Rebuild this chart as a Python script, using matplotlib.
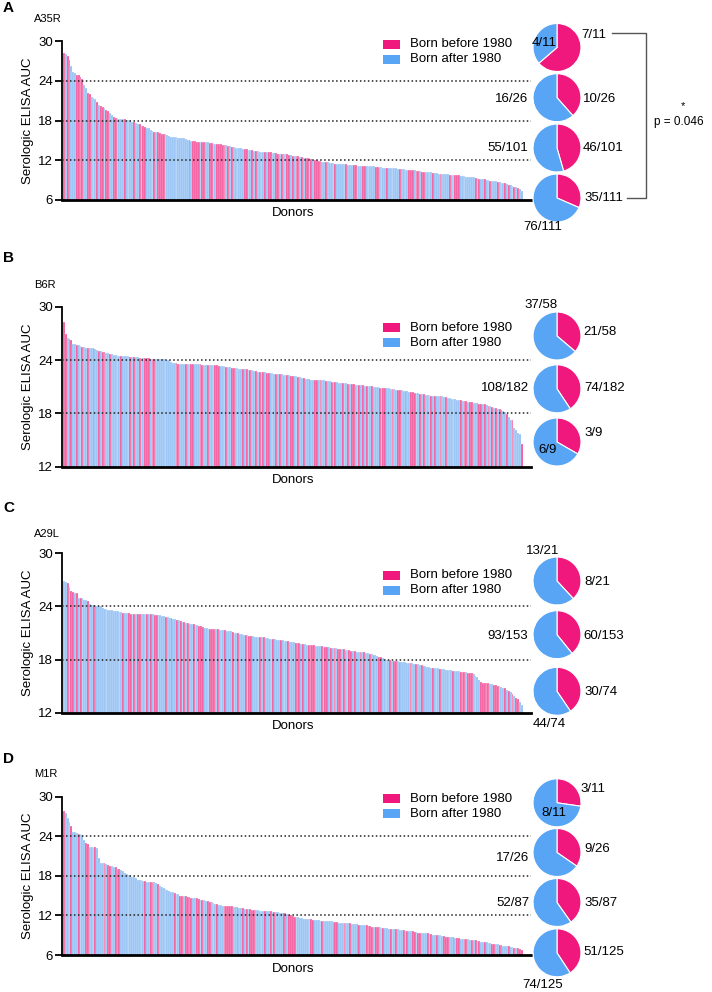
import numpy as np
import matplotlib.pyplot as plt
from matplotlib.patches import Rectangle
from matplotlib.lines import Line2D

plt.rcParams['font.family'] = ['Liberation Sans', 'DejaVu Sans']

W, H = 712, 992

# ---------------- data ----------------
# sorted serologic ELISA AUC per donor; p = born before 1980, b = born after 1980
a35r_auc = [
    28.2, 28.0, 27.7, 27.2, 26.2, 25.3, 25.2, 24.9, 24.8, 24.6, 24.2,
    23.3, 22.9, 22.2, 22.0, 21.6, 21.4, 21.2, 20.8, 20.4, 20.2, 20.0, 19.9, 19.6, 19.4, 19.2, 18.8,
    18.6, 18.4, 18.4, 18.3, 18.3, 18.2, 18.2, 18.1, 18.1, 18.1,
    17.8, 17.7, 17.6, 17.5, 17.4, 17.2, 17.1, 17.0, 16.9, 16.8, 16.6, 16.4, 16.3,
    16.2, 16.2, 16.1, 16.0, 15.9, 15.9, 15.8, 15.6, 15.5, 15.5,
    15.5, 15.5, 15.4, 15.4, 15.4, 15.3, 15.2, 15.1, 15.0, 14.9,
    14.9, 14.9, 14.8, 14.8, 14.8, 14.7, 14.7, 14.7, 14.7, 14.6, 14.6, 14.5, 14.5,
    14.4, 14.4, 14.4, 14.3, 14.3, 14.3, 14.2, 14.1, 14.0, 14.0,
    13.9, 13.9, 13.8, 13.8, 13.7, 13.7, 13.7, 13.6, 13.6, 13.5,
    13.4, 13.4, 13.4, 13.3, 13.3, 13.3, 13.3, 13.2, 13.2, 13.2, 13.1, 13.1, 13.1, 13.0, 13.0, 13.0, 12.9, 12.9,
    12.9, 12.8, 12.8, 12.7, 12.7, 12.6, 12.6, 12.5, 12.5, 12.4, 12.4, 12.3, 12.3, 12.2, 12.1, 12.1, 12.0,
    11.9, 11.9, 11.8, 11.8, 11.7, 11.7, 11.6, 11.6, 11.6, 11.5, 11.5, 11.5, 11.4,
    11.4, 11.4, 11.4, 11.3, 11.3, 11.3, 11.3, 11.3, 11.2, 11.2, 11.2, 11.2, 11.2, 11.2, 11.1,
    11.1, 11.1, 11.1, 11.0, 11.0, 11.0, 11.0, 10.9, 10.9, 10.9, 10.9, 10.8, 10.8, 10.8, 10.8, 10.7, 10.7, 10.7,
    10.7, 10.6, 10.6, 10.6, 10.5, 10.5, 10.5, 10.4, 10.4, 10.4, 10.3, 10.3, 10.3, 10.2, 10.2, 10.2, 10.1, 10.1,
    10.1, 10.0, 10.0, 10.0, 9.9, 9.9, 9.9, 9.8, 9.8, 9.8, 9.7, 9.7, 9.7, 9.6, 9.6, 9.6, 9.5, 9.5,
    9.5, 9.4, 9.4, 9.3, 9.3, 9.2, 9.2, 9.1, 9.1, 9.0, 9.0, 8.9, 8.9, 8.8, 8.8, 8.7, 8.7, 8.6,
    8.6, 8.5, 8.4, 8.3, 8.2, 8.1, 8.0, 7.9, 7.8, 7.6, 7.4,
]
a35r_born = ("pbppbbbpppp"
             "bbppbbbpbppbppbbppbbbbpbbb"
             "bpbbpbppbbbbp" "bppppbbbbb" "bbbbbbbbpb" "ppppbppbbppbb" "pppppbpbpb"
             "bbbbbppbbp" "bpbbbbpbppbbppbpbb" "ppbpbppbpbppbpbpp"
             "ppbbpbbbbpbbb" "bbpbbbppbbbppbb" "bbbppbbbbpbbbbbbpb" "bbbpppbppbppbbbbpb"
             "bbpbbbbpbbpppbbbbb" "bbbpbpbbpbbpbbbpbb" "bpbpbbpbpbb")
a35r_pie_before = [7, 10, 46, 35]
a35r_pie_after = [4, 16, 55, 76]

b6r_auc = [
    28.3, 26.9, 26.5, 26.4, 26.2, 25.8, 25.8, 25.7, 25.7, 25.6,
    25.5, 25.5, 25.4, 25.4, 25.4, 25.3, 25.3, 25.2, 25.1, 25.0,
    25.0, 24.9, 24.9, 24.8, 24.8, 24.7, 24.7, 24.6, 24.6, 24.5,
    24.5, 24.5, 24.4, 24.4, 24.4, 24.4, 24.3, 24.3, 24.3, 24.3,
    24.3, 24.2, 24.2, 24.2, 24.2, 24.2, 24.2, 24.1, 24.1, 24.1,
    24.1, 24.1, 24.1, 24.1, 24.1, 24.0, 24.0, 24.0,
    23.8, 23.7, 23.7, 23.7, 23.6, 23.6, 23.6, 23.6, 23.6, 23.5, 23.5, 23.5,
    23.5, 23.5, 23.5, 23.5, 23.5, 23.4, 23.4, 23.4, 23.4, 23.4, 23.4, 23.4, 23.4, 23.4, 23.3, 23.3, 23.3, 23.3, 23.2, 23.2,
    23.2, 23.1, 23.1, 23.1, 23.1, 23.0, 23.0, 23.0, 23.0, 23.0, 22.9, 22.9, 22.9, 22.8, 22.8, 22.7, 22.7, 22.6, 22.6, 22.6,
    22.5, 22.5, 22.5, 22.5, 22.4, 22.4, 22.4, 22.4, 22.4, 22.3, 22.3, 22.3, 22.3, 22.2, 22.2, 22.2, 22.2, 22.1, 22.1, 22.0,
    22.0, 21.9, 21.9, 21.9, 21.8, 21.8, 21.8, 21.8, 21.7, 21.7, 21.7, 21.7, 21.6, 21.6, 21.6, 21.5, 21.5, 21.5, 21.5, 21.4,
    21.4, 21.4, 21.4, 21.4, 21.3, 21.3, 21.3, 21.3, 21.2, 21.2, 21.2, 21.2, 21.2, 21.1, 21.1, 21.1, 21.1, 21.1, 21.0, 21.0,
    21.0, 20.9, 20.9, 20.9, 20.8, 20.8, 20.8, 20.7, 20.7, 20.7, 20.6, 20.6, 20.6, 20.6, 20.5, 20.5, 20.5, 20.4, 20.4, 20.4,
    20.3, 20.3, 20.3, 20.2, 20.2, 20.2, 20.1, 20.1, 20.1, 20.0, 20.0, 20.0, 19.9, 19.9, 19.9, 19.9, 19.8, 19.8, 19.7, 19.7,
    19.6, 19.6, 19.6, 19.5, 19.5, 19.5, 19.4, 19.4, 19.4, 19.3, 19.3, 19.3, 19.2, 19.2, 19.2, 19.1, 19.1, 19.0, 19.0, 18.9,
    18.8, 18.8, 18.7, 18.6, 18.6, 18.5, 18.5, 18.4, 18.3, 18.2,
    17.9, 17.6, 17.3, 17.2, 16.4, 16.1, 15.8, 15.7, 14.6,
]
b6r_born = ("ppbppbbpbb" "pbbpbbpbbp" "bppbbpbbbb" "bpbbbbpbpb" "bpbbpppbpp" "bbbbbbbb"
            "bbbppbbbpbbp" "pbbbppbbpbbbpppbbbpb" "bppbbbbpbpbpbbpbpbpb" "ppbbbpbpbbbpbppbbpbb"
            "pbbpbbppbpbbpbbpbpbb" "bpbbpbppbbpbpbpbbpbb" "bpbppbbbpbbppbbpbbpp" "pbbpbpbbbpbpbbpbbpbb"
            "bbbbbpbppbppbbpppbpb" "pbpbpbppbb"
            "pbbpbbbbp")
b6r_pie_before = [21, 74, 3]
b6r_pie_after = [37, 108, 6]

a29l_auc = [
    26.9, 26.8, 26.6, 26.2, 25.7, 25.6, 25.5, 25.5, 25.0, 24.9, 24.9, 24.7, 24.7, 24.6, 24.3, 24.2, 24.2, 24.1, 24.1, 24.0, 24.0,
    23.8, 23.7, 23.7, 23.6, 23.6, 23.6, 23.5, 23.5, 23.5, 23.4, 23.4,
    23.3, 23.3, 23.3, 23.3, 23.2, 23.2, 23.2, 23.2, 23.2, 23.2, 23.1, 23.1, 23.1, 23.1, 23.1, 23.1, 23.1, 23.0, 23.0, 23.0, 23.0,
    22.9, 22.9, 22.8, 22.8, 22.7, 22.7, 22.6, 22.6, 22.5, 22.5, 22.4,
    22.2, 22.2, 22.1, 22.1, 22.0, 22.0, 22.0, 21.9, 21.9, 21.8, 21.8,
    21.7, 21.6, 21.6, 21.5, 21.5, 21.5, 21.4, 21.4, 21.4, 21.3, 21.3, 21.3, 21.3, 21.2, 21.2, 21.2, 21.1,
    21.0, 21.0, 21.0, 20.9, 20.9, 20.8, 20.8, 20.8, 20.7, 20.7, 20.7, 20.6, 20.6, 20.6, 20.5, 20.5, 20.5, 20.4,
    20.4, 20.3, 20.3, 20.3, 20.3, 20.2, 20.2, 20.2, 20.2, 20.1, 20.1, 20.1, 20.0, 20.0, 20.0, 19.9, 19.9, 19.9, 19.8, 19.8, 19.8, 19.7,
    19.7, 19.6, 19.6, 19.6, 19.5, 19.5, 19.5, 19.5, 19.4, 19.4, 19.4, 19.4, 19.3, 19.3, 19.3, 19.3, 19.2, 19.2,
    19.2, 19.2, 19.1, 19.1, 19.1, 19.0, 19.0, 19.0, 18.9, 18.9, 18.9, 18.8, 18.8, 18.7, 18.7, 18.6, 18.6, 18.5, 18.5, 18.4, 18.3, 18.3, 18.2, 18.1,
    17.9, 17.9, 17.9, 17.8, 17.8, 17.8, 17.8, 17.7, 17.7, 17.7, 17.7, 17.6,
    17.6, 17.6, 17.6, 17.5, 17.5, 17.5, 17.4, 17.4, 17.3, 17.3, 17.2, 17.2, 17.1, 17.1, 17.0,
    17.0, 17.0, 16.9, 16.9, 16.9, 16.8, 16.8, 16.8, 16.8, 16.7, 16.7, 16.7, 16.7, 16.6, 16.6, 16.6, 16.6, 16.5, 16.5, 16.5, 16.4,
    16.2, 16.0, 15.7, 15.5, 15.4, 15.4, 15.3, 15.3, 15.2, 15.2, 15.1, 15.1, 15.0, 15.0,
    14.9, 14.8, 14.8, 14.6, 14.5, 14.3, 14.1, 13.9, 13.7, 13.5, 13.2, 12.9,
]
a29l_born = ("bbpbppbpbpbbbpbbppbbb"
             "bbbbbbbbbbb" "pbbppbpbppbbbpbpbppbb" "bbpbbpbbpbp" "bpbpbbpbbpp" "pbbbpppbpbbbpbbbp"
             "bbpbbbpbppbbbbpbpb" "bbbpbbbpbbbpbbbpppbpbb" "ppppbbbpbppbpbpbpp" "bpbbppbpbbpbpbbpbpbbppbb"
             "bbpbppbpbbbb" "bpbbpbbppbbbbpb" "bbpbbbbbbpbbbpppbpppb" "bbbpppppbbpppb" "bbpbpbpbppbb")
a29l_pie_before = [8, 60, 30]
a29l_pie_after = [13, 93, 44]

m1r_auc = [
    27.9, 27.5, 26.8, 26.1, 25.6, 24.6, 24.6, 24.5, 24.4, 24.3, 24.2,
    23.4, 23.0, 22.8, 22.4, 22.3, 22.3, 22.3, 22.2, 20.7, 20.0, 19.9, 19.9, 19.8, 19.6, 19.5, 19.5,
    19.4, 19.3, 19.0, 19.0, 18.9, 18.7, 18.4, 18.3, 18.2, 18.1,
    17.9, 17.8, 17.6, 17.4, 17.4, 17.3, 17.2, 17.2, 17.1, 17.0, 17.0, 17.0, 17.0, 16.9,
    16.7, 16.5, 16.3, 16.2, 16.0, 15.8, 15.7, 15.6, 15.5, 15.4, 15.3, 15.2,
    15.0, 14.9, 14.9, 14.9, 14.8, 14.8, 14.7, 14.7, 14.6, 14.6, 14.5, 14.4, 14.3, 14.3, 14.2, 14.2, 14.1, 14.1,
    13.9, 13.8, 13.7, 13.6, 13.6, 13.5, 13.5, 13.5, 13.4, 13.4, 13.4, 13.3, 13.3, 13.3, 13.2, 13.2, 13.1,
    13.0, 12.9, 12.9, 12.9, 12.8, 12.8, 12.8, 12.8, 12.7, 12.7, 12.7, 12.7, 12.6, 12.6, 12.6, 12.5, 12.5, 12.5, 12.5,
    12.4, 12.4, 12.3, 12.3, 12.2, 12.1, 12.0,
    11.9, 11.8, 11.7, 11.7, 11.6, 11.6, 11.5, 11.5, 11.4, 11.4, 11.4, 11.3, 11.3, 11.3, 11.3, 11.2, 11.2, 11.2, 11.2, 11.1,
    11.1, 11.1, 11.0, 11.0,
    11.0, 10.9, 10.9, 10.9, 10.8, 10.8, 10.8, 10.8, 10.7, 10.7, 10.7, 10.7, 10.6, 10.6, 10.6, 10.5, 10.5, 10.4, 10.4, 10.3, 10.3,
    10.2, 10.2, 10.2, 10.1, 10.1, 10.1, 10.1, 10.0, 10.0, 10.0, 9.9, 9.9, 9.9, 9.8, 9.8, 9.8, 9.7, 9.7,
    9.6, 9.6, 9.6, 9.5, 9.5, 9.4, 9.4, 9.4, 9.3, 9.3, 9.3, 9.2, 9.2, 9.1, 9.1, 9.1, 9.0, 9.0,
    8.9, 8.9, 8.8, 8.8, 8.8, 8.7, 8.7, 8.6, 8.6, 8.6, 8.5, 8.5, 8.5, 8.4, 8.4, 8.3, 8.3, 8.2,
    8.2, 8.1, 8.1, 8.0, 8.0, 7.9, 7.9, 7.8, 7.8, 7.7, 7.7, 7.6, 7.6, 7.5, 7.5,
    7.4, 7.4, 7.3, 7.3, 7.2, 7.2, 7.1, 7.1, 7.0, 6.9, 6.8,
]
m1r_born = ("pbbbpbbbpbb"
            "bppbbbpbbbbpbppbbpppbbbbbb"
            "bbbbbbbpbbppbb" "pbbbbbbbbpbb" "ppbppppbbppbpbbppb" "bbpbbbpppppbbpbbp"
            "bpbpppbbbbbpbbpbpbbbbppbpp"
            "ppbbbbbbbbppbbbbpbbbbbpp" "pbbbpbbpbbbppbbbppppb" "ppbbpbbbpbbpbbbpbp" "bbppbppbbbpbpbbpbb"
            "bpppbbpbppbbppbbpb" "pbpbbpbbbppbbpp" "bbbpbbpbppp")
m1r_pie_before = [3, 9, 35, 51]
m1r_pie_after = [8, 17, 52, 74]

PINK = '#F0187C'
BLUE = '#58A5F6'
BAR_PINK = '#F24F97'
BAR_BLUE = '#8DBDF4'

fig = plt.figure(figsize=(W / 100, H / 100), dpi=100)


def box(x0, y0, x1, y1):
    # pixel box (origin top-left) -> figure fraction
    return [x0 / W, 1 - y1 / H, (x1 - x0) / W, (y1 - y0) / H]


def ftext(x, y, s, **kw):
    kw.setdefault('va', 'center')
    fig.text(x / W, 1 - y / H, s, **kw)


def fline(xs, ys, **kw):
    fig.add_artist(Line2D([x / W for x in xs], [1 - y / H for y in ys],
                          transform=fig.transFigure, **kw))


panels = [
    dict(letter='A', name='A35R', auc=a35r_auc, born=a35r_born,
         before=a35r_pie_before, after=a35r_pie_after,
         top=41, bottom=200, ymin=6, ticks=[6, 12, 18, 24, 30], cuts=[24, 18, 12],
         letter_y=8, name_y=18.7, legend_y=40,
         pies=[47.5, 97.7, 148, 198],
         labels=[(0, 'b', 581, 35, 'left'), (0, 'a', 544, 43, 'center'),
                 (1, 'a', 528, 99.5, 'right'), (1, 'b', 583, 99.5, 'left'),
                 (2, 'a', 528, 148, 'right'), (2, 'b', 583, 148, 'left'),
                 (3, 'b', 584, 198.3, 'left'), (3, 'a', 543, 227.5, 'center')]),
    dict(letter='B', name='B6R', auc=b6r_auc, born=b6r_born,
         before=b6r_pie_before, after=b6r_pie_after,
         top=306.7, bottom=466.7, ymin=12, ticks=[12, 18, 24, 30], cuts=[24, 18],
         letter_y=258.3, name_y=285, legend_y=323.3,
         pies=[336, 388.8, 442],
         labels=[(0, 'a', 541, 305, 'center'), (0, 'b', 583, 332, 'left'),
                 (1, 'a', 529, 388.3, 'right'), (1, 'b', 584, 388.3, 'left'),
                 (2, 'b', 584, 433.3, 'left'), (2, 'a', 548, 450, 'center')]),
    dict(letter='C', name='A29L', auc=a29l_auc, born=a29l_born,
         before=a29l_pie_before, after=a29l_pie_after,
         top=553.3, bottom=712.7, ymin=12, ticks=[12, 18, 24, 30], cuts=[24, 18],
         letter_y=508.3, name_y=533.8, legend_y=571,
         pies=[581, 634.7, 691.3],
         labels=[(0, 'a', 542.5, 550.5, 'center'), (0, 'b', 584, 582.3, 'left'),
                 (1, 'a', 528.3, 635.7, 'right'), (1, 'b', 583.3, 635.7, 'left'),
                 (2, 'b', 584, 692, 'left'), (2, 'a', 549.3, 724, 'center')]),
    dict(letter='D', name='M1R', auc=m1r_auc, born=m1r_born,
         before=m1r_pie_before, after=m1r_pie_after,
         top=796.7, bottom=955, ymin=6, ticks=[6, 12, 18, 24, 30], cuts=[24, 18, 12],
         letter_y=758.7, name_y=773.8, legend_y=794.3,
         pies=[802.8, 852.5, 902.5, 952.8],
         labels=[(0, 'b', 580.7, 789.3, 'left'), (0, 'a', 554, 813.3, 'center'),
                 (1, 'a', 529.3, 857.7, 'right'), (1, 'b', 584.3, 849, 'left'),
                 (2, 'a', 529.3, 902.7, 'right'), (2, 'b', 584, 902.7, 'left'),
                 (3, 'b', 583.3, 952.3, 'left'), (3, 'a', 542.5, 985, 'center')]),
]

X0, X1, BAR_END = 62, 531, 522.7
R = 24.7
PIE_X = 557

for p in panels:
    n = len(p['auc'])
    ax = fig.add_axes(box(X0, p['top'], X1, p['bottom']))
    cols = [BAR_PINK if c == 'p' else BAR_BLUE for c in p['born']]
    ax.bar(np.arange(n), p['auc'], width=1.0, color=cols, edgecolor='white',
           linewidth=0.2, zorder=2)
    ppb = (BAR_END - 63) / n
    ax.set_xlim(-0.5 - 1 / ppb, n - 0.5 + (X1 - BAR_END) / ppb)
    ax.set_ylim(p['ymin'], 30)
    ax.set_yticks(p['ticks'])
    ax.set_xticks([])
    for c in p['cuts']:
        ax.axhline(c, color='#222222', lw=1.1, ls=(0, (1, 1.6)), zorder=3)
    for s in ['top', 'right']:
        ax.spines[s].set_visible(False)
    ax.spines['left'].set_linewidth(1.3)
    ax.spines['bottom'].set_linewidth(2)
    ax.spines['bottom'].set_zorder(4)
    ax.tick_params(axis='y', length=5, width=1.3, labelsize=9.5, pad=1.5)
    ax.patch.set_alpha(0)

    ftext(3, p['letter_y'], p['letter'], fontsize=11, fontweight='bold')
    ftext(34, p['name_y'], p['name'], fontsize=8)
    ftext(293, p['bottom'] + 13.5, 'Donors', fontsize=9.5, ha='center')
    ftext(28, (p['top'] + p['bottom']) / 2, 'Serologic ELISA AUC', fontsize=9.5,
          rotation=90, ha='center')

    # legend
    ly = p['legend_y']
    for k, (col, lab) in enumerate([(PINK, 'Born before 1980'), (BLUE, 'Born after 1980')]):
        yy = ly + 15 * k
        fig.add_artist(Rectangle((383 / W, 1 - (yy + 8.5) / H), 17 / W, 8.5 / H,
                                 transform=fig.transFigure, color=col, lw=0))
        ftext(410.5, yy + 4.3, lab, fontsize=9.5)

    # pies
    for k, cy in enumerate(p['pies']):
        pax = fig.add_axes(box(PIE_X - R, cy - R, PIE_X + R, cy + R))
        pax.pie([p['before'][k], p['after'][k]], colors=[PINK, BLUE], startangle=90,
                counterclock=False, radius=1,
                wedgeprops=dict(edgecolor='white', linewidth=0.8))
        pax.set_xlim(-1.03, 1.03)
        pax.set_ylim(-1.03, 1.03)
        pax.axis('off')
    for k, which, x, y, ha in p['labels']:
        tot = p['before'][k] + p['after'][k]
        num = p['before'][k] if which == 'b' else p['after'][k]
        ftext(x, y, f'{num}/{tot}', fontsize=9.5, ha=ha, zorder=5)

# significance bracket (A35R top vs bottom group)
fline([611.7, 646, 646, 626.7], [33.3, 33.3, 198.3, 198.3], color='#555555', lw=1)
ftext(682.7, 106, '*', fontsize=8, ha='center')
ftext(678.5, 121.7, 'p = 0.046', fontsize=8.5, ha='center')

fig.savefig('out.png', dpi=100)
